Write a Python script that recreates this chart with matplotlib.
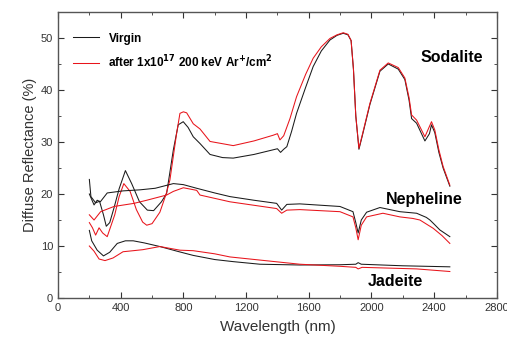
import numpy as np
import matplotlib.pyplot as plt
from matplotlib.ticker import MultipleLocator

plt.rcParams['font.family'] = ['Liberation Sans', 'DejaVu Sans']

# === Data (wavelength nm, reflectance %) ===
sod_v_wl = [200, 210, 240, 265, 290, 308, 330, 357, 390, 430, 470, 520, 570, 610, 660, 693,
            736, 767, 799, 830, 863, 906, 970, 1050, 1118, 1250, 1373, 1400, 1420, 1440, 1460,
            1490, 1522, 1580, 1628, 1680, 1735, 1780, 1820, 1850, 1870, 1885, 1900, 1920, 1940,
            1990, 2054, 2107, 2171, 2213, 2240, 2256, 2288, 2341, 2370, 2383, 2404, 2430, 2457, 2500]
sod_v_r = [22.8, 19.5, 18.3, 18.6, 16.0, 13.8, 14.5, 17.3, 21.0, 24.5, 22.0, 18.5, 16.9, 16.8, 18.5, 20.1,
           28.5, 33.3, 33.9, 32.8, 31.0, 29.7, 27.6, 27.0, 26.9, 27.6, 28.5, 28.7, 28.0, 28.6, 29.1,
           32.0, 35.5, 40.5, 44.5, 47.5, 49.6, 50.5, 50.9, 50.6, 49.5, 44.0, 35.0, 28.6, 31.0,
           37.2, 43.6, 45.0, 44.0, 42.0, 38.0, 34.5, 33.6, 30.2, 31.6, 33.3, 31.8, 28.0, 25.0, 21.5]

sod_i_wl = [200, 220, 240, 262, 285, 314, 362, 390, 420, 460, 500, 540, 566, 600, 650, 690,
            714, 757, 778, 800, 821, 863, 906, 970, 1118, 1250, 1373, 1400, 1416, 1440, 1480,
            1522, 1580, 1628, 1680, 1735, 1780, 1820, 1850, 1870, 1885, 1900, 1920, 1940, 1990,
            2054, 2107, 2171, 2213, 2240, 2256, 2288, 2341, 2383, 2404, 2430, 2457, 2500]
sod_i_r = [14.5, 13.5, 12.1, 13.5, 12.5, 11.8, 16.0, 19.5, 22.0, 20.5, 17.0, 14.6, 14.0, 14.3, 16.5, 20.0,
           22.7, 31.7, 35.5, 35.8, 35.6, 33.5, 32.5, 30.1, 29.3, 30.2, 31.3, 31.6, 30.4, 31.2, 34.5,
           38.7, 43.0, 46.1, 48.3, 49.9, 50.6, 51.0, 50.7, 49.5, 44.0, 35.0, 28.8, 31.2, 37.4,
           43.8, 45.2, 44.3, 42.3, 38.5, 35.2, 34.2, 31.0, 33.9, 32.3, 28.5, 25.3, 21.7]

neph_v_wl = [200, 230, 250, 270, 314, 415, 523, 620, 736, 800, 885, 1000, 1097, 1250, 1395, 1427,
             1460, 1543, 1799, 1882, 1900, 1915, 1935, 1969, 2054, 2181, 2288, 2350, 2373, 2400,
             2436, 2500]
neph_v_r = [20.0, 17.9, 18.8, 18.5, 20.2, 20.6, 20.8, 21.1, 22.0, 21.8, 21.1, 20.2, 19.5, 18.8, 18.2, 16.9,
            18.0, 18.1, 17.6, 16.6, 14.5, 12.5, 15.0, 16.5, 17.4, 16.6, 16.3, 15.5, 15.0, 14.2,
            13.1, 11.8]

neph_i_wl = [200, 230, 272, 357, 485, 566, 693, 736, 800, 885, 906, 1097, 1395, 1427, 1460, 1543,
             1799, 1882, 1900, 1915, 1935, 1969, 2073, 2181, 2264, 2309, 2394, 2450, 2500]
neph_i_r = [16.0, 15.0, 16.6, 17.6, 18.2, 18.8, 19.8, 20.5, 21.2, 20.7, 19.8, 18.5, 17.2, 16.3, 16.9, 17.0,
            16.6, 15.6, 13.5, 11.2, 14.0, 15.6, 16.3, 15.6, 15.3, 15.0, 13.4, 12.0, 10.5]

jad_v_wl = [200, 215, 250, 290, 330, 378, 430, 480, 550, 650, 760, 862, 1000, 1117, 1288, 1543,
            1800, 1900, 1915, 1935, 2200, 2500]
jad_v_r = [13.0, 11.0, 9.2, 8.1, 8.8, 10.5, 11.0, 11.0, 10.6, 9.9, 9.0, 8.2, 7.4, 7.0, 6.5, 6.35,
           6.4, 6.5, 6.8, 6.5, 6.2, 6.0]

jad_i_wl = [200, 230, 262, 300, 351, 415, 480, 542, 650, 778, 863, 1000, 1097, 1288, 1543, 1800,
            1900, 1915, 1940, 2288, 2500]
jad_i_r = [10.0, 9.0, 7.5, 7.2, 7.7, 8.9, 9.1, 9.3, 9.9, 9.2, 9.1, 8.5, 7.9, 7.3, 6.5, 6.1,
           5.9, 5.6, 5.9, 5.6, 5.1]

labels = ['Virgin', r'after 1x10$^{\mathbf{17}}$ 200 keV Ar$^{\mathbf{+}}$/cm$^{\mathbf{2}}$']
black = '#1a1a1a'
red = '#e8141b'

# === Plot ===
fig = plt.figure(figsize=(5.07, 3.41), dpi=100)
ax = fig.add_axes([0.1144, 0.126, 0.8656, 0.839])

lw = 0.75
ax.plot(sod_v_wl, sod_v_r, color=black, lw=lw, label=labels[0])
ax.plot(sod_i_wl, sod_i_r, color=red, lw=lw, label=labels[1])
ax.plot(neph_v_wl, neph_v_r, color=black, lw=lw)
ax.plot(neph_i_wl, neph_i_r, color=red, lw=lw)
ax.plot(jad_v_wl, jad_v_r, color=black, lw=lw)
ax.plot(jad_i_wl, jad_i_r, color=red, lw=lw)

ax.text(2513, 46.3, 'Sodalite', fontsize=11.5, fontweight='bold', ha='center', va='center')
ax.text(2334, 19.0, 'Nepheline', fontsize=11.5, fontweight='bold', ha='center', va='center')
ax.text(2150, 3.1, 'Jadeite', fontsize=11.5, fontweight='bold', ha='center', va='center')

ax.set_xlim(0, 2800)
ax.set_ylim(0, 55)
ax.xaxis.set_major_locator(MultipleLocator(400))
ax.xaxis.set_minor_locator(MultipleLocator(200))
ax.yaxis.set_major_locator(MultipleLocator(10))
ax.yaxis.set_minor_locator(MultipleLocator(5))
ax.tick_params(which='both', direction='in', top=True, right=True, labelsize=8,
               colors='#333333', labelcolor='#333333')
ax.tick_params(which='major', length=4)
ax.tick_params(which='minor', length=2.5)
for s in ax.spines.values():
    s.set_color('#555555')
    s.set_linewidth(1.0)

ax.set_xlabel('Wavelength (nm)', fontsize=11, color='#333333', labelpad=5)
ax.set_ylabel('Diffuse Reflectance (%)', fontsize=10.5, color='#333333', labelpad=3)

leg = ax.legend(loc='upper left', frameon=False, fontsize=8.5, handlelength=2.2,
                bbox_to_anchor=(0.01, 0.965), labelspacing=0.75)
for t in leg.get_texts():
    t.set_fontweight('bold')

fig.savefig('out.png', dpi=100)
